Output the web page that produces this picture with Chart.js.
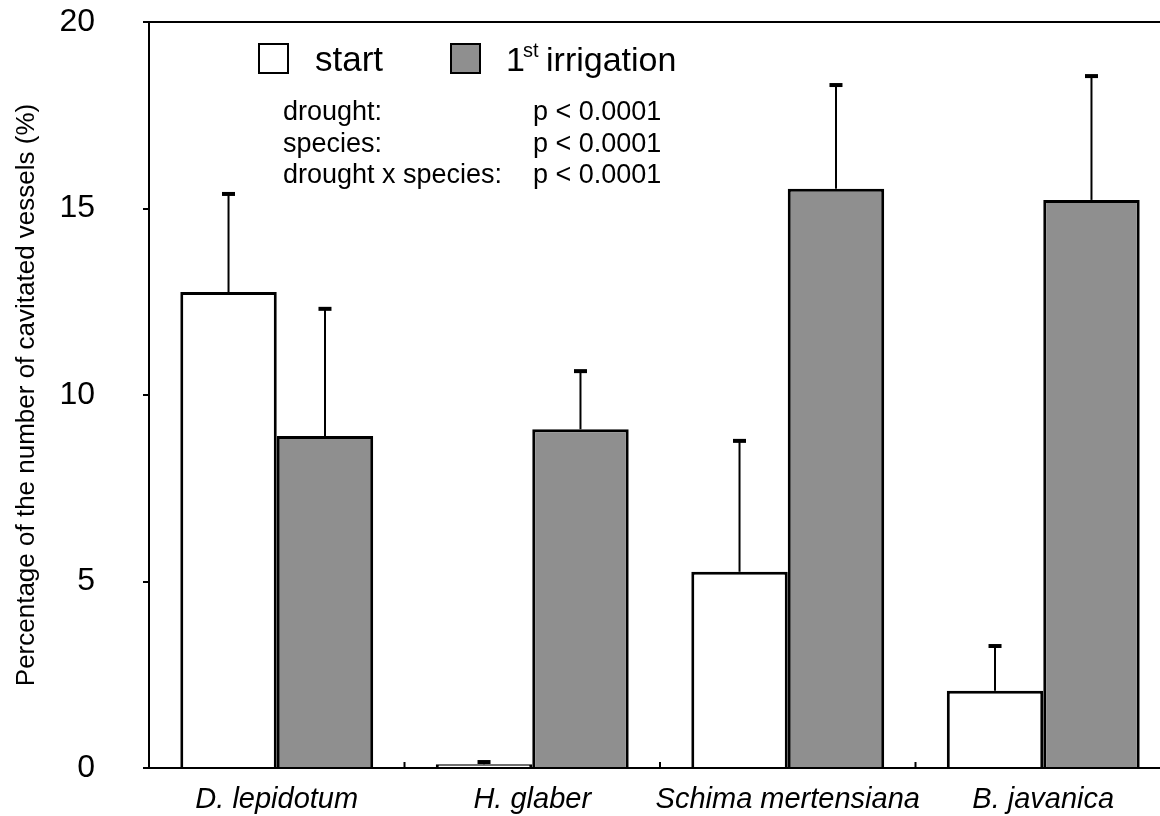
<!DOCTYPE html>
<html>
<head>
<meta charset="utf-8">
<script src="https://cdn.jsdelivr.net/npm/chart.js@4.4.1/dist/chart.umd.min.js"></script>
<style>
  html, body { margin: 0; padding: 0; background: #fff; overflow: hidden; }
  #wrap { width: 1180px; height: 816px; }
</style>
</head>
<body>
<div id="wrap"><canvas id="chart" width="1180" height="816"></canvas></div>
<script>
const species = ['D. lepidotum', 'H. glaber', 'Schima mertensiana', 'B. javanica'];
const seriesNames = ['start', '1st irrigation'];
const startValues = [12.76, 0.1, 5.26, 2.07];
const startErrors = [2.63, 0.06, 3.51, 1.2];
const irrigationValues = [8.9, 9.08, 15.53, 15.23];
const irrigationErrors = [3.41, 1.56, 2.78, 3.32];
const yTicks = [0, 5, 10, 15, 20];
const statLabels = ['drought:', 'species:', 'drought x species:'];
const statValues = ['p < 0.0001', 'p < 0.0001', 'p < 0.0001'];

const FONT = '"Liberation Sans", Arial, Helvetica, sans-serif';
const GREY = '#8f8f8f';

// error bars (upper only) + frame + legend + stats text
const extras = {
  id: 'extras',
  afterDatasetsDraw(chart) {
    const ctx = chart.ctx;
    const y = chart.scales.y;
    const x = chart.scales.x;
    const area = chart.chartArea;
    const errs = [startErrors, irrigationErrors];

    ctx.save();
    ctx.strokeStyle = '#000';
    chart.data.datasets.forEach((ds, di) => {
      chart.getDatasetMeta(di).data.forEach((bar, i) => {
        const top = y.getPixelForValue(ds.data[i] + errs[di][i]);
        ctx.lineWidth = 2;
        ctx.beginPath();
        ctx.moveTo(bar.x, bar.y);
        ctx.lineTo(bar.x, top);
        ctx.stroke();
        ctx.lineWidth = 4;
        ctx.beginPath();
        ctx.moveTo(bar.x - 6.5, top);
        ctx.lineTo(bar.x + 6.5, top);
        ctx.stroke();
      });
    });

    // top frame line
    ctx.lineWidth = 2;
    ctx.beginPath();
    ctx.moveTo(area.left - 1, area.top);
    ctx.lineTo(area.right, area.top);
    ctx.lineTo(area.right, area.bottom);
    ctx.stroke();

    // inward ticks between categories
    for (let i = 0; i < species.length; i++) {
      const px = (x.getPixelForValue(i) + x.getPixelForValue(i + 1)) / 2;
      ctx.beginPath();
      ctx.moveTo(px, area.bottom);
      ctx.lineTo(px, area.bottom - 6);
      ctx.stroke();
    }

    // legend
    ctx.fillStyle = '#fff';
    ctx.fillRect(259, 44, 29, 29);
    ctx.strokeRect(259, 44, 29, 29);
    ctx.fillStyle = GREY;
    ctx.fillRect(451, 44, 29, 29);
    ctx.strokeRect(451, 44, 29, 29);

    ctx.fillStyle = '#000';
    ctx.textBaseline = 'alphabetic';
    ctx.textAlign = 'left';
    ctx.font = '35px ' + FONT;
    ctx.fillText(seriesNames[0], 315, 71);
    ctx.font = '34px ' + FONT;
    ctx.fillText('1', 506, 71);
    ctx.font = '20px ' + FONT;
    ctx.fillText('st', 523, 57);
    ctx.font = '34px ' + FONT;
    ctx.fillText('irrigation', 546, 71);

    // stats
    ctx.font = '27px ' + FONT;
    statLabels.forEach((s, i) => {
      ctx.fillText(s, 283, 120 + i * 31.5);
      ctx.fillText(statValues[i], 533, 120 + i * 31.5);
    });
    ctx.restore();
  }
};

new Chart(document.getElementById('chart'), {
  type: 'bar',
  data: {
    labels: species,
    datasets: [
      {
        label: seriesNames[0],
        data: startValues,
        backgroundColor: '#fff',
        borderColor: '#000',
        borderWidth: 3,
        barPercentage: 1,
        categoryPercentage: 0.755
      },
      {
        label: seriesNames[1],
        data: irrigationValues,
        backgroundColor: GREY,
        borderColor: '#000',
        borderWidth: 3,
        barPercentage: 1,
        categoryPercentage: 0.755
      }
    ]
  },
  options: {
    responsive: false,
    animation: false,
    layout: { padding: { top: 22, right: 9, left: 0, bottom: 0 } },
    plugins: {
      legend: { display: false },
      tooltip: { enabled: false }
    },
    scales: {
      x: {
        afterFit: (s) => { s.height = 48; },
        grid: { display: false },
        border: { display: true, color: '#000', width: 2 },
        ticks: {
          color: '#000',
          padding: 7,
          maxRotation: 0,
          minRotation: 0,
          autoSkip: false,
          font: { family: FONT, size: 29, style: 'italic' }
        }
      },
      y: {
        min: 0,
        max: 20,
        afterFit: (s) => {
          s.width = 149;
          // tick padding would otherwise push the plot top/bottom inwards
          s.paddingTop = 0;
          s.paddingBottom = 0;
        },
        afterBuildTicks: (s) => { s.ticks = yTicks.map(v => ({ value: v })); },
        grid: { drawOnChartArea: false, drawTicks: true, tickLength: 6, color: '#000', lineWidth: 2 },
        border: { display: true, color: '#000', width: 2 },
        ticks: {
          color: '#000',
          padding: 48,
          font: { family: FONT, size: 32 }
        },
        title: {
          display: true,
          text: 'Percentage of the number of cavitated vessels (%)',
          color: '#000',
          padding: { top: 11, bottom: 0 },
          font: { family: FONT, size: 26 }
        }
      }
    }
  },
  plugins: [extras]
});
</script>
</body>
</html>
